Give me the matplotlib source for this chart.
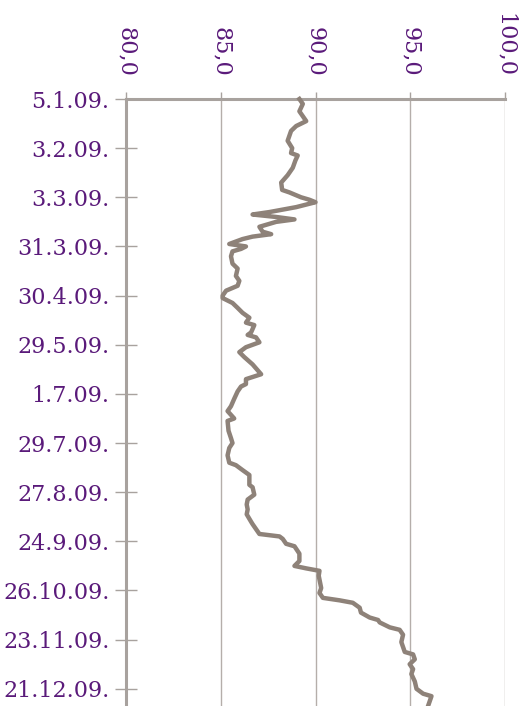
import matplotlib
matplotlib.use("Agg")
import matplotlib.pyplot as plt
import numpy as np

# trading day index (0 = 5.1.09.) and index value
trading_day = [0, 2, 5, 9, 11, 13, 15, 17, 20, 22, 23, 25, 28, 31, 34, 37, 38, 40, 41, 42,
               44, 46, 47, 48, 49, 50, 52, 54, 55, 56, 57, 59, 60, 61, 62, 64, 67, 69, 72, 74,
               76, 78, 80, 81, 83, 85, 87, 89, 91, 92, 95, 96, 97, 99, 101, 103, 105, 108, 112, 114,
               116, 117, 119, 122, 125, 127, 130, 131, 135, 138, 140, 142, 145, 148, 149, 151, 153, 157, 158, 161,
               163, 165, 167, 169, 172, 173, 177, 178, 179, 181, 182, 185, 188, 190, 191, 192, 194, 199, 201, 203,
               204, 205, 207, 209, 211, 212, 213, 215, 216, 218, 221, 225, 226, 228, 230, 232, 234, 237, 240, 242,
               243, 245, 247]
index_value = [89.15, 89.33, 89.15, 89.51, 88.98, 88.71, 88.62, 88.53, 88.77, 88.71, 89.06, 88.94, 88.80, 88.53, 88.19, 88.24, 88.62, 89.24, 89.68, 90.00,
               88.98, 87.57, 86.68, 87.92, 88.89, 87.92, 87.04, 87.21, 87.66, 86.68, 86.15, 85.45, 86.33, 86.07, 85.62, 85.54, 85.62, 85.89, 85.80, 85.98,
               85.89, 85.28, 85.10, 85.10, 85.62, 85.89, 86.15, 86.51, 86.33, 86.77, 86.60, 86.42, 86.86, 87.04, 86.33, 85.98, 86.24, 86.68, 87.13, 86.33,
               86.33, 86.07, 85.89, 85.71, 85.54, 85.36, 85.71, 85.36, 85.41, 85.54, 85.62, 85.45, 85.36, 85.45, 85.80, 86.15, 86.51, 86.51, 86.68, 86.77,
               86.42, 86.37, 86.42, 86.37, 86.60, 86.68, 87.04, 88.10, 88.27, 88.45, 88.89, 89.15, 89.15, 88.89, 89.51, 90.21, 90.17, 90.30, 90.21, 90.39,
               91.27, 91.97, 92.33, 92.40, 92.86, 93.30, 93.39, 93.92, 94.44, 94.62, 94.53, 94.71, 95.15, 95.24, 94.97, 95.15, 95.06, 95.24, 95.33, 95.68,
               96.12, 96.03, 95.94]

date_ticks = [0, 20, 40, 60, 80, 100, 120, 140, 160, 180, 200, 220, 240]
date_labels = ['5.1.09.', '3.2.09.', '3.3.09.', '31.3.09.', '30.4.09.', '29.5.09.', '1.7.09.',
               '29.7.09.', '27.8.09.', '24.9.09.', '26.10.09.', '23.11.09.', '21.12.09.']
value_ticks = [80, 85, 90, 95, 100]

label_color = '#5A1A7A'
axis_color = '#A8A29E'
line_color = '#8E8279'

plt.rcParams['font.family'] = ['DejaVu Serif']

fig = plt.figure(figsize=(5.28, 7.06), dpi=100)
fig.patch.set_facecolor('white')
ax = fig.add_axes([126 / 528, 0.0, (505 - 126) / 528, 607 / 706])

ax.plot(index_value, trading_day, color=line_color, linewidth=3.2,
        solid_joinstyle='round', clip_on=False, zorder=3)

ax.set_xlim(80, 100)
ax.set_ylim(247, 0)

ax.xaxis.tick_top()
ax.set_xticks(value_ticks)
ax.set_xticklabels([f'{v:.1f}'.replace('.', ',') for v in value_ticks],
                   rotation=-90, color=label_color, fontsize=16)
ax.tick_params(axis='x', direction='out', length=5, width=1, color=axis_color, pad=11)

ax.set_yticks(date_ticks)
ax.set_yticklabels(date_labels, color=label_color, fontsize=16)
ax.tick_params(axis='y', direction='inout', length=16, width=1, color=axis_color, pad=4)

ax.grid(axis='x', color='#B5AEAA', linewidth=1)
ax.set_axisbelow(True)

for side in ['right', 'bottom']:
    ax.spines[side].set_visible(False)
for side in ['left', 'top']:
    ax.spines[side].set_color(axis_color)
    ax.spines[side].set_linewidth(2.2)

plt.savefig('out.png', dpi=100, facecolor='white')
plt.close()
